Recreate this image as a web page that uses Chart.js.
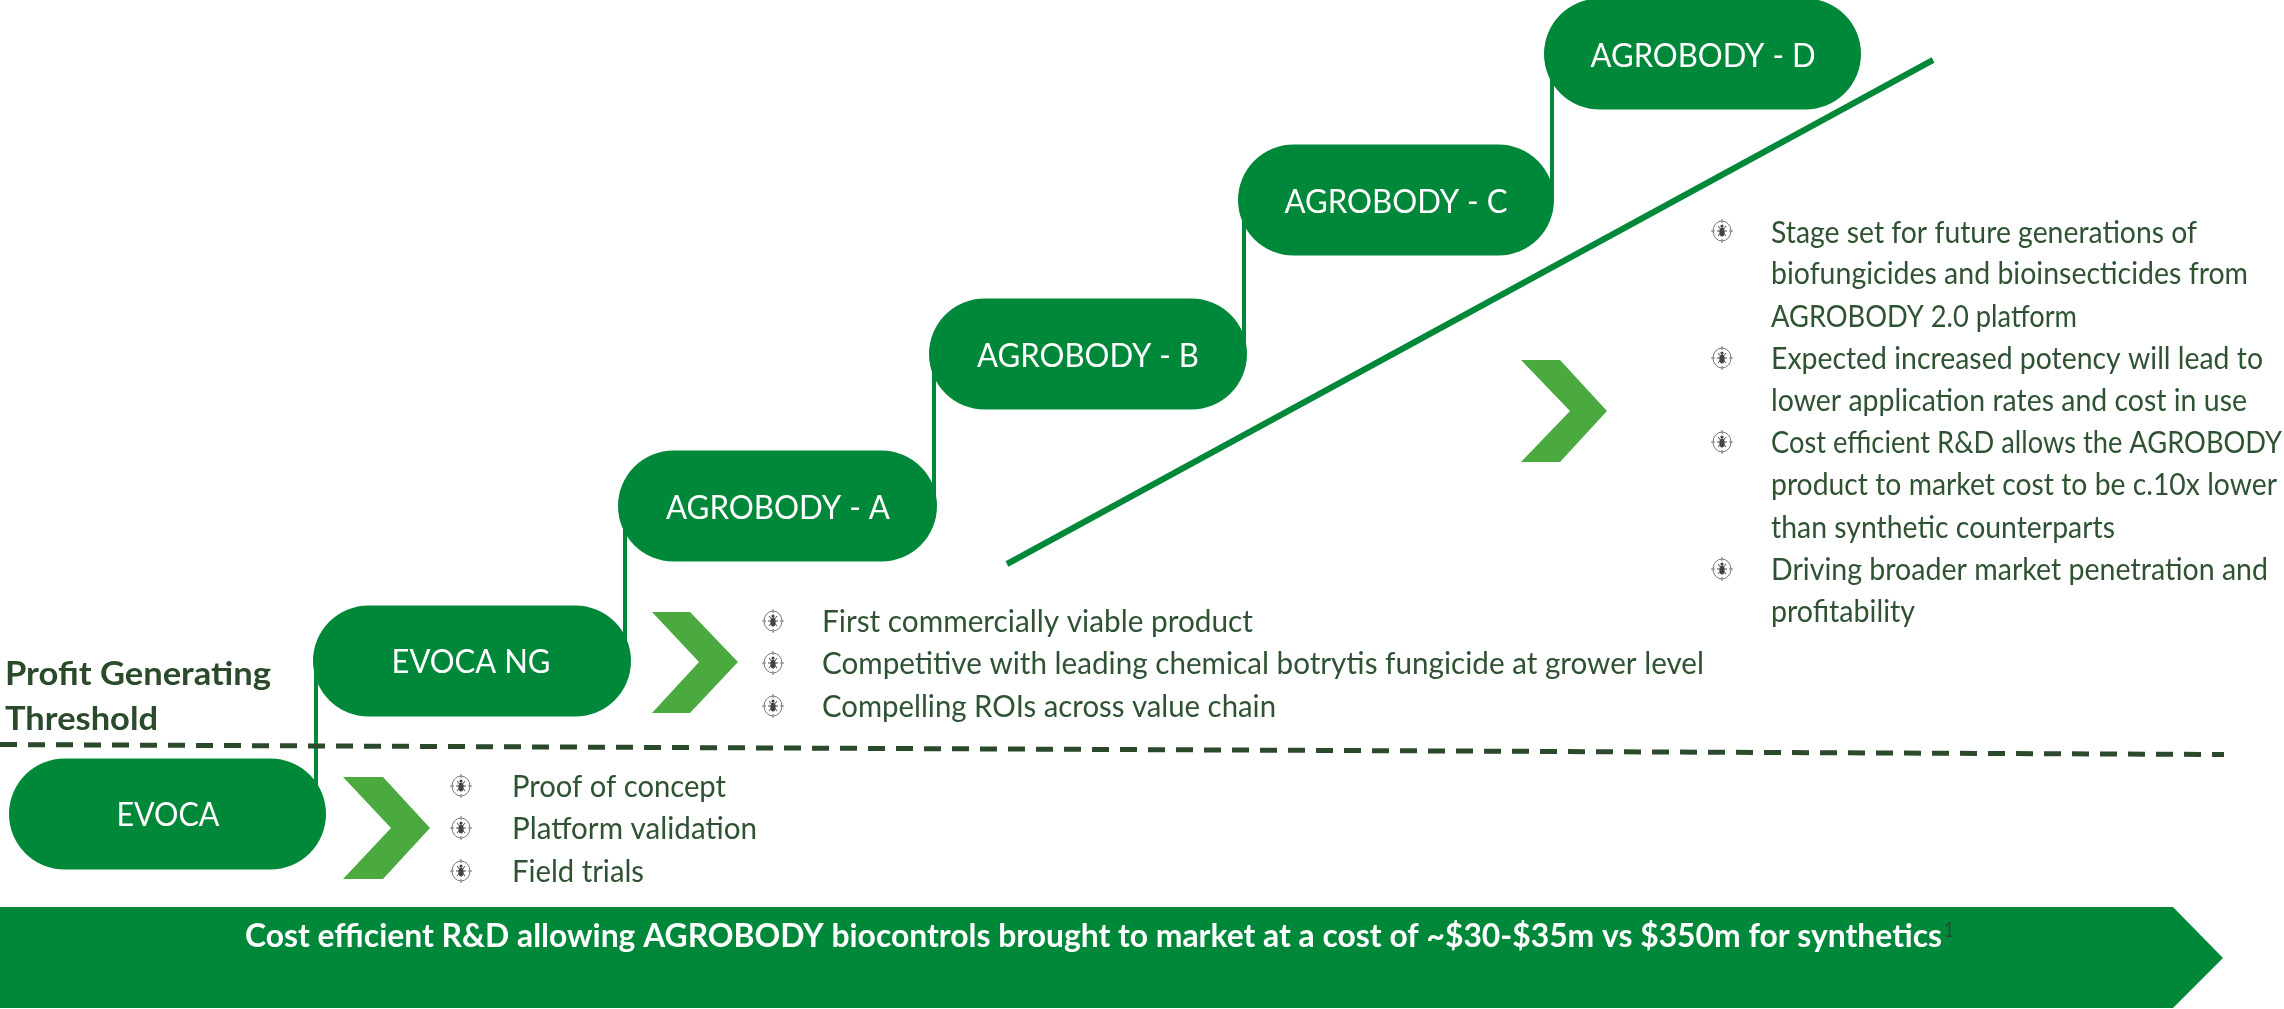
<!DOCTYPE html>
<html>
<head>
<meta charset="utf-8">
<title>AGROBODY pipeline</title>
<script src="https://cdn.jsdelivr.net/npm/chart.js@4/dist/chart.umd.js"></script>
<style>
  html, body { margin: 0; padding: 0; background: #fff; }
  canvas { display: block; }
</style>
</head>
<body>
<canvas id="chart" width="2284" height="1009"></canvas>
<script>
// stages (values are in picture units, top-down)
const stageNames = ['EVOCA', 'EVOCA NG', 'AGROBODY - A', 'AGROBODY - B', 'AGROBODY - C', 'AGROBODY - D'];
const stageLeft = [9, 313, 618, 929, 1238, 1544];
const stageRight = [326, 631, 937, 1247, 1554, 1861];
const stageMid = [814, 661, 506, 354, 200, 54];
const stageLabelMid = [168, 471, 778, 1088, 1396, 1703];
const stageLabelWidth = [103, 159, 224, 222, 223, 225];
const stageBaseline = [826, 673, 519, 367, 213, 67];
const connectorX = [316, 625, 934, 1244, 1552];

const thresholdX = [0, 2224];
const thresholdY = [744.5, 754.5];
const trendX = [1007, 1933];
const trendY = [564, 60];

const chevronTop = [777, 612, 360];
const chevronMid = [828, 662, 411];
const chevronBottom = [879, 713, 462];
const chevronLeft = [343, 652, 1521];
const chevronShoulder = [383, 690, 1560];
const chevronInner = [391, 699, 1570];
const chevronTip = [430, 738, 1607];

const bannerX = [0, 2173, 2223, 2173, 0, 0];
const bannerY = [907, 907, 958, 1008, 1008, 907];

const bulletX = [461, 461, 461, 773, 773, 773, 1722, 1722, 1722, 1722];
const bulletY = [786, 828, 871, 621, 663, 706, 231, 358, 442, 569];

const bodyLines = [
  'Proof of concept', 'Platform validation', 'Field trials',
  'First commercially viable product',
  'Competitive with leading chemical botrytis fungicide at grower level',
  'Compelling ROIs across value chain',
  'Stage set for future generations of', 'biofungicides and bioinsecticides from', 'AGROBODY 2.0 platform',
  'Expected increased potency will lead to', 'lower application rates and cost in use',
  'Cost efficient R&D allows the AGROBODY', 'product to market cost to be c.10x lower', 'than synthetic counterparts',
  'Driving broader market penetration and', 'profitability'
];
const bodyX = [512, 512, 512, 822, 822, 822, 1771, 1771, 1771, 1771, 1771, 1771, 1771, 1771, 1771, 1771];
const bodyBaseline = [797, 839, 882, 632, 674, 717, 243, 284, 326.5, 369, 411, 453, 495, 538, 580, 622];
const bodyWidth = [214, 245, 132, 431, 882, 454, 426, 477, 306, 492, 476, 511, 506, 344, 497, 144];

const thresholdLines = ['Profit Generating', 'Threshold'];
const thresholdLineBase = [685, 730];
const thresholdLineWidth = [266, 153];

const bannerText = 'Cost efficient R&D allowing AGROBODY biocontrols brought to market at a cost of ~$30-$35m vs $350m for synthetics';

const GREEN = '#00883a';
const LIGHT = '#4baa3f';
const DARK = '#2b4a2b';
const PILL_H = 111;

// little beetle-in-a-target bullet, used as the point image
function makeBullet() {
  const c = document.createElement('canvas');
  c.width = 22; c.height = 24;
  const g = c.getContext('2d');
  g.strokeStyle = '#777';
  g.lineWidth = 1;
  g.beginPath();
  g.ellipse(11, 12, 9, 10, 0, 0, Math.PI * 2);
  g.moveTo(11, 0); g.lineTo(11, 4);
  g.moveTo(11, 20); g.lineTo(11, 24);
  g.moveTo(0, 12); g.lineTo(4, 12);
  g.moveTo(18, 12); g.lineTo(22, 12);
  g.stroke();
  g.strokeStyle = '#444';
  g.beginPath();
  g.moveTo(7, 7); g.lineTo(15, 17);
  g.moveTo(15, 7); g.lineTo(7, 17);
  g.moveTo(6, 12); g.lineTo(16, 12);
  g.stroke();
  g.fillStyle = '#444';
  g.beginPath();
  g.ellipse(11, 13, 2.6, 4.6, 0, 0, Math.PI * 2);
  g.fill();
  g.beginPath();
  g.arc(11, 7, 1.6, 0, Math.PI * 2);
  g.fill();
  return c;
}

function toPoints(xs, ys) {
  return xs.map((x, i) => ({ x: x, y: ys[i] }));
}

const plain = { showLine: true, pointRadius: 0, pointHoverRadius: 0, fill: false, tension: 0 };

const datasets = [];

datasets.push(Object.assign({}, plain, {
  data: toPoints(thresholdX, thresholdY),
  borderColor: DARK, borderWidth: 5, borderDash: [17, 11]
}));

datasets.push({
  data: toPoints(bulletX, bulletY),
  showLine: false,
  pointStyle: makeBullet(),
  pointRadius: 11
});

stageNames.forEach((name, i) => {
  const r = PILL_H / 2;
  datasets.push(Object.assign({}, plain, {
    label: name,
    data: toPoints([stageLeft[i] + r, stageRight[i] - r], [stageMid[i], stageMid[i]]),
    borderColor: GREEN, borderWidth: PILL_H, borderCapStyle: 'round'
  }));
});

connectorX.forEach((x, i) => {
  datasets.push(Object.assign({}, plain, {
    data: toPoints([x, x], [stageMid[i + 1], stageMid[i]]),
    borderColor: GREEN, borderWidth: 4
  }));
});

datasets.push(Object.assign({}, plain, {
  data: toPoints(trendX, trendY),
  borderColor: GREEN, borderWidth: 6
}));

chevronTip.forEach((tip, i) => {
  datasets.push(Object.assign({}, plain, {
    data: toPoints(
      [chevronLeft[i], chevronShoulder[i], tip, chevronShoulder[i], chevronLeft[i], chevronInner[i], chevronLeft[i]],
      [chevronTop[i], chevronTop[i], chevronMid[i], chevronBottom[i], chevronBottom[i], chevronMid[i], chevronTop[i]]
    ),
    borderWidth: 0, borderColor: LIGHT, backgroundColor: LIGHT, fill: 'shape'
  }));
});

datasets.push(Object.assign({}, plain, {
  data: toPoints(bannerX, bannerY),
  borderWidth: 0, borderColor: GREEN, backgroundColor: GREEN, fill: 'shape'
}));

// writes a line of text squeezed to the width it has in the picture
function putText(ctx, text, x, y, width, font, color) {
  ctx.font = font;
  ctx.fillStyle = color;
  const k = width / ctx.measureText(text).width;
  ctx.save();
  ctx.translate(x, y);
  ctx.scale(k, 1);
  ctx.textBaseline = 'alphabetic';
  ctx.fillText(text, 0, 0);
  ctx.restore();
}

const textPlugin = {
  id: 'textPlugin',
  afterDatasetsDraw(chart) {
    const ctx = chart.ctx;
    const sx = chart.scales.x;
    const sy = chart.scales.y;
    stageNames.forEach((name, i) => {
      const left = stageLabelMid[i] - stageLabelWidth[i] / 2;
      putText(ctx, name, sx.getPixelForValue(left), sy.getPixelForValue(stageBaseline[i]),
        stageLabelWidth[i], '33px Lato', '#fff');
    });
    bodyLines.forEach((line, i) => {
      putText(ctx, line, sx.getPixelForValue(bodyX[i]), sy.getPixelForValue(bodyBaseline[i]),
        bodyWidth[i], '30px Lato', '#2f5233');
    });
    thresholdLines.forEach((line, i) => {
      putText(ctx, line, sx.getPixelForValue(5), sy.getPixelForValue(thresholdLineBase[i]),
        thresholdLineWidth[i], 'bold 33px Lato', DARK);
    });
    putText(ctx, bannerText, sx.getPixelForValue(245), sy.getPixelForValue(947), 1697, 'bold 33px Lato', '#fff');
    putText(ctx, '1', sx.getPixelForValue(1944), sy.getPixelForValue(937), 10, '22px Lato', DARK);
  }
};

new Chart(document.getElementById('chart'), {
  type: 'scatter',
  data: { datasets: datasets },
  options: {
    responsive: false,
    animation: false,
    events: [],
    layout: { padding: 0, autoPadding: false },
    clip: false,
    plugins: { legend: { display: false }, tooltip: { enabled: false } },
    scales: {
      x: { type: 'linear', min: 0, max: 2284, display: false },
      y: { type: 'linear', min: 0, max: 1009, reverse: true, display: false }
    }
  },
  plugins: [textPlugin]
});
</script>
</body>
</html>
